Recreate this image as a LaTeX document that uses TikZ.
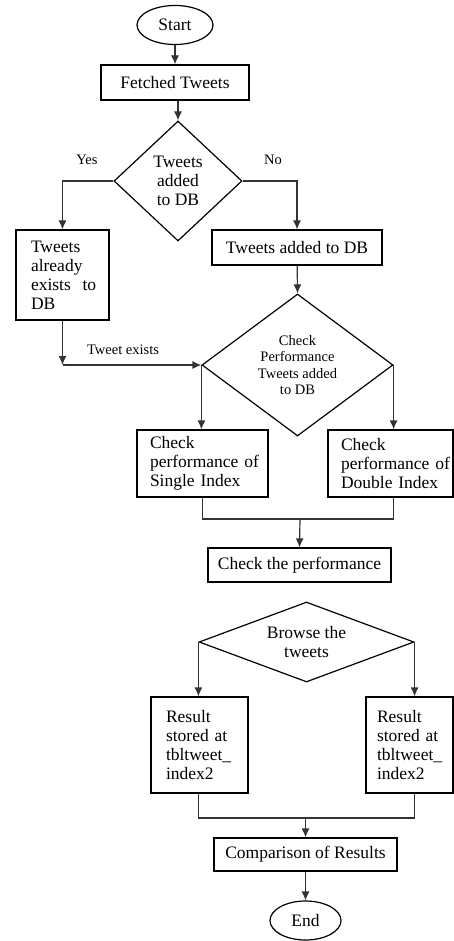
\documentclass[tikz,border=0pt]{standalone}
\usepackage{fontspec}
\setmainfont{Liberation Serif}
\usetikzlibrary{shapes.geometric,arrows.meta}
\tikzset{
	flowline/.style={line width=1.2pt, draw=black!80},
	flowarrow/.style={flowline, -{Latex[length=9pt,width=8pt]}},
	procbox/.style={draw, rectangle, line width=1.2pt, inner sep=0pt, font=\fontsize{17.5}{19}\selectfont},
	textbox/.style={procbox, align=left, inner xsep=15pt},
	terminal/.style={draw, ellipse, line width=1.2pt, inner sep=0pt, font=\fontsize{17.5}{19}\selectfont},
	decision/.style={draw, diamond, line width=1.2pt, inner sep=0pt, align=center, font=\fontsize{17.5}{19}\selectfont},
	edgelabel/.style={inner sep=0pt, font=\fontsize{14.5}{16}\selectfont}
}

\begin{document}
\begin{tikzpicture}[x=1pt, y=-1pt]
	\useasboundingbox (0,0) rectangle (454,941);

	\node [terminal, minimum width=76pt, minimum height=39pt] (start) at (175,25) {Start};
	\node [procbox, minimum width=148pt, minimum height=35pt] (fetch) at (175,82.5) {Fetched Tweets};
	\draw [flowarrow] (start) -- (fetch);

	\node [decision, aspect=1.07, minimum width=128pt, minimum height=120pt] (added) at (178,181) {Tweets\\added\\to~DB};
	\draw [flowarrow] (fetch.south -| added.north) -- (added.north);

	\node [textbox, text width=63pt, minimum height=90pt] (exists) at (62.5,275) {Tweets\\already\\exists~~to\\DB};
	\node [procbox, minimum width=170pt, minimum height=35pt] (todb) at (297,247.5) {Tweets added to DB};
	\draw [flowarrow] (added.west) -| (exists.north);
	\draw [flowarrow] (added.east) -| (todb.north);
	\node [edgelabel] (yes) at (87,160) {Yes};
	\node [edgelabel] (no) at (273,160) {No};

	\node [decision, aspect=1.345, minimum width=191pt, minimum height=142pt, font=\fontsize{14.5}{16.5}\selectfont] (checkperf) at (297.5,365) {Check\\Performance\\Tweets~added\\to~DB};
	\draw [flowarrow] (todb) -- (checkperf.north);

	\coordinate (bend) at (exists.south |- checkperf.west);
	\draw [flowarrow] (exists.south) -- (bend);
	\draw [flowarrow] (bend) -- (checkperf.west);
	\node [edgelabel] (exlabel) at (123,350) {Tweet exists};

	\node [textbox, inner xsep=13pt, text width=105pt, minimum height=67pt] (single) at (202.5,463.5) {Check\\\mbox{performance~of}\\\mbox{Single~Index}};
	\node [textbox, inner xsep=13pt, text width=99pt, minimum height=67pt] (double) at (390.5,463.5) {Check\\\mbox{performance~of}\\\mbox{Double~Index}};
	\draw [flowarrow] (checkperf.west) -- (checkperf.west |- single.north);
	\draw [flowarrow] (checkperf.east) -- (checkperf.east |- double.north);

	\coordinate (join1) at (300,519);
	\draw [flowline] (single.south) |- (join1) -| (checkperf.east |- double.south);
	\node [procbox, minimum width=183pt, minimum height=34pt] (perf) at (299.5,565) {Check the performance};
	\draw [flowarrow] (join1) -- (perf.north);

	\node [decision, aspect=2.69, minimum width=215pt, minimum height=80pt] (browse) at (306.5,642) {Browse~the\\tweets};

	\node [textbox, text width=67pt, minimum height=96pt] (res1) at (199.5,745) {Result\\stored~at\\tbltweet\_\\index2};
	\node [textbox, inner xsep=11pt, text width=65pt, minimum height=96pt] (res2) at (409.5,745) {Result\\stored~at\\tbltweet\_\\index2};
	\draw [flowarrow] (browse.west) -- (browse.west |- res1.north);
	\draw [flowarrow] (browse.east) -- (browse.east |- res2.north);

	\coordinate (join2) at (305.5,818);
	\draw [flowline] (browse.west |- res1.south) |- (join2) -| (browse.east |- res2.south);
	\node [procbox, minimum width=183pt, minimum height=33pt] (compare) at (305.5,854.5) {Comparison of Results};
	\draw [flowarrow] (join2) -- (compare.north);

	\node [terminal, minimum width=71pt, minimum height=39pt] (finish) at (305.5,920.5) {End};
	\draw [flowarrow] (compare) -- (finish);
\end{tikzpicture}
\end{document}
